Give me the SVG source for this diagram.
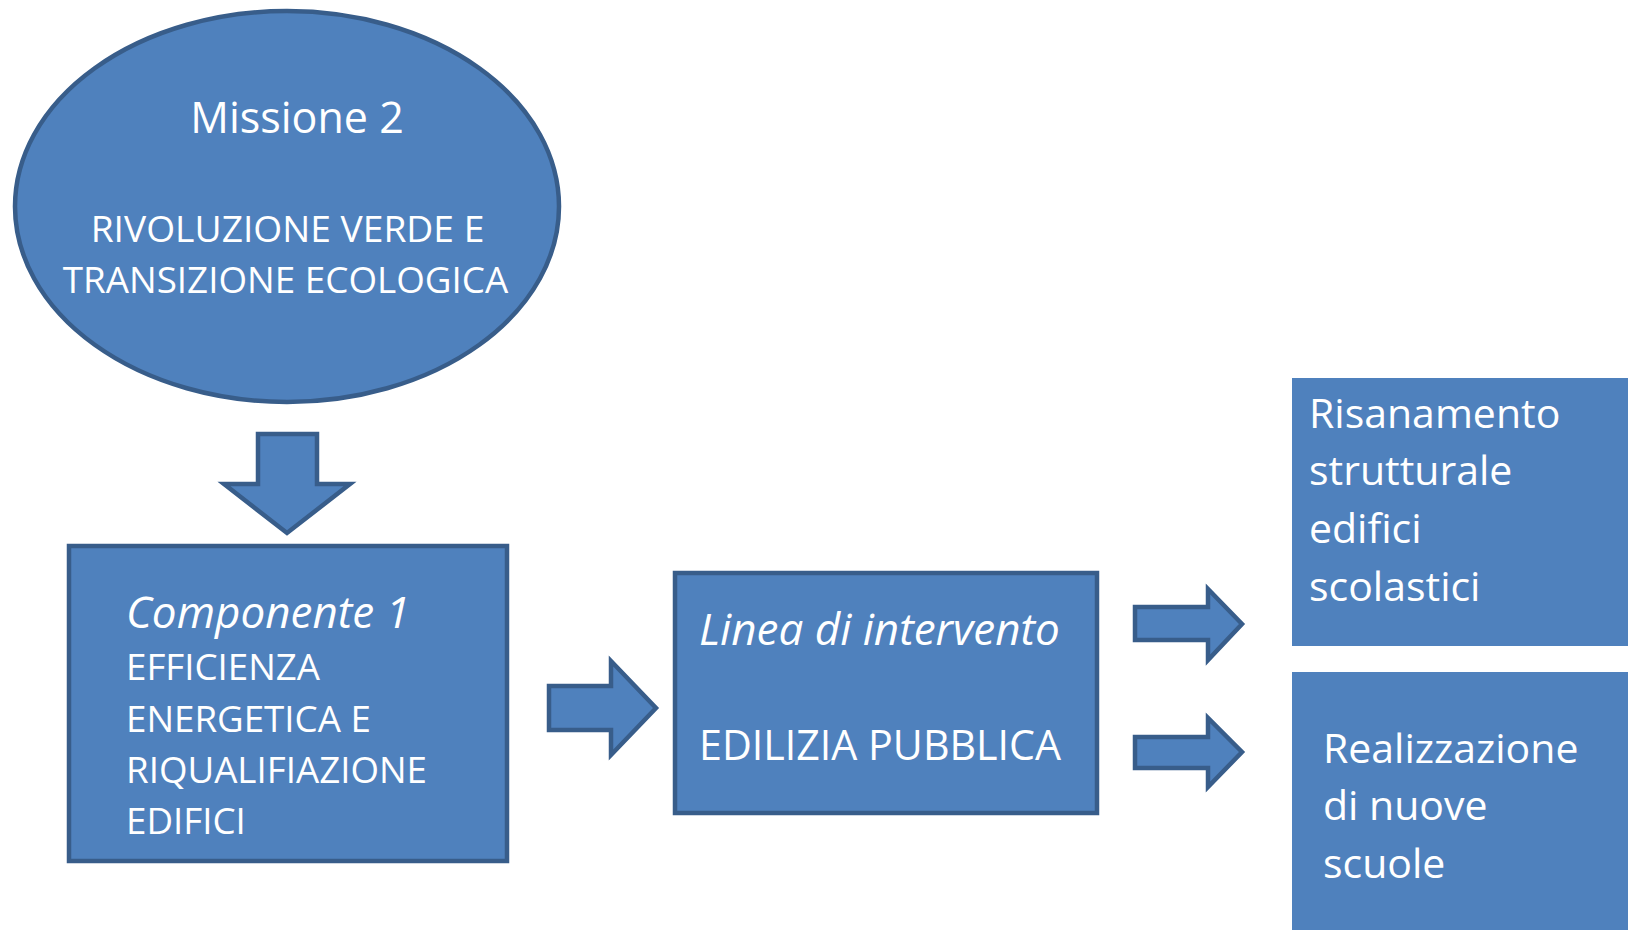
<svg xmlns="http://www.w3.org/2000/svg" width="1628" height="930" viewBox="0 0 1628 930">
<style>
.shape{fill:#4F81BD;stroke:#385D8A;stroke-width:4.5;stroke-linejoin:miter}
.plain{fill:#4F81BD;stroke:none}
text{font-family:"Open Sans","Noto Sans","Liberation Sans",sans-serif;fill:#FFFFFF}
.it{font-style:italic}
</style>
<rect width="1628" height="930" fill="#FFFFFF"/>
<g id="connectors">
<polygon class="shape" points="258,434 317,434 317,484 350,484 287,533 224,484 258,484"/>
<polygon class="shape" points="549,686 611,686 611,661 656,708 611,755 611,730 549,730"/>
<polygon class="shape" points="1135,607 1208,607 1208,589 1242,624 1208,660 1208,640 1135,640"/>
<polygon class="shape" points="1135,737 1208,737 1208,718 1242,752 1208,787 1208,768 1135,768"/>
</g>
<g id="missione">
<ellipse class="shape" cx="287" cy="206.5" rx="272" ry="195.5"/>
<text x="297" y="133" font-size="43" text-anchor="middle">Missione 2</text>
<text x="287.5" y="242" font-size="37.2" text-anchor="middle">RIVOLUZIONE VERDE E</text>
<text x="285.5" y="293" font-size="36.8" text-anchor="middle">TRANSIZIONE ECOLOGICA</text>
</g>
<g id="componente">
<rect class="shape" x="69" y="546" width="438" height="315"/>
<text class="it" x="126" y="628" font-size="44">Componente 1</text>
<text x="126" y="680" font-size="36.7">EFFICIENZA</text>
<text x="126" y="731.5" font-size="36.7">ENERGETICA E</text>
<text x="126" y="783" font-size="36.7">RIQUALIFIAZIONE</text>
<text x="126" y="834" font-size="36.7">EDIFICI</text>
</g>
<g id="linea">
<rect class="shape" x="675" y="573" width="422" height="240"/>
<text class="it" x="699" y="645" font-size="44">Linea di intervento</text>
<text x="699" y="760" font-size="41.2">EDILIZIA PUBBLICA</text>
</g>
<g id="risanamento">
<rect class="plain" x="1292" y="378" width="336" height="268"/>
<text x="1309" y="428" font-size="41">Risanamento</text>
<text x="1309" y="485" font-size="41">strutturale</text>
<text x="1309" y="543" font-size="41">edifici</text>
<text x="1309" y="601" font-size="41">scolastici</text>
</g>
<g id="realizzazione">
<rect class="plain" x="1292" y="672" width="336" height="258"/>
<text x="1323" y="763" font-size="41">Realizzazione</text>
<text x="1323" y="820" font-size="41">di nuove</text>
<text x="1323" y="878" font-size="41">scuole</text>
</g>
</svg>
